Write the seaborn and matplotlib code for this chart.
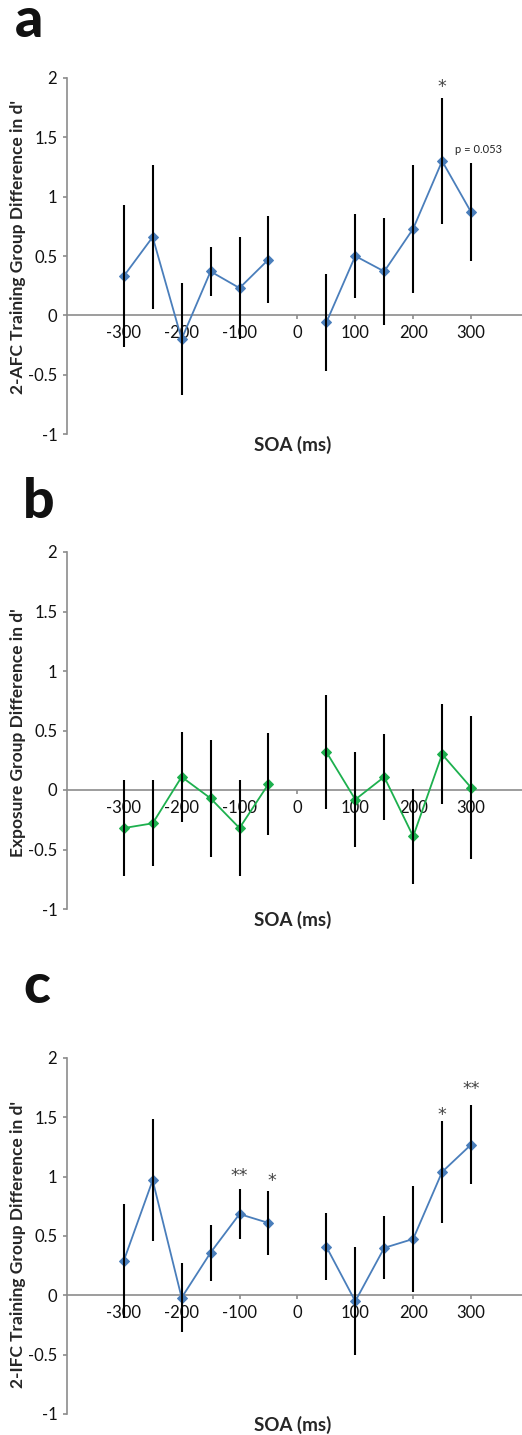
import numpy as np
import pandas as pd
import matplotlib
matplotlib.use("Agg")
import matplotlib.pyplot as plt
import seaborn as sns

# ---- data ----
soa = [-300, -250, -200, -150, -100, -50, 50, 100, 150, 200, 250, 300]
x_ticks = [-300, -200, -100, 0, 100, 200, 300]
y_ticks = [-1, -0.5, 0, 0.5, 1, 1.5, 2]
y_tick_labels = ["-1", "-0.5", "0", "0.5", "1", "1.5", "2"]

a_vals = [0.33, 0.66, -0.20, 0.37, 0.23, 0.47, -0.06, 0.50, 0.37, 0.73, 1.30, 0.87]
a_err = [0.60, 0.61, 0.47, 0.21, 0.43, 0.37, 0.41, 0.35, 0.45, 0.54, 0.53, 0.41]
b_vals = [-0.32, -0.28, 0.11, -0.07, -0.32, 0.05, 0.32, -0.08, 0.11, -0.39, 0.30, 0.02]
b_err = [0.40, 0.36, 0.38, 0.49, 0.40, 0.43, 0.48, 0.40, 0.36, 0.40, 0.42, 0.60]
c_vals = [0.29, 0.97, -0.02, 0.36, 0.685, 0.61, 0.41, -0.05, 0.40, 0.475, 1.04, 1.27]
c_err = [0.48, 0.515, 0.29, 0.235, 0.21, 0.27, 0.28, 0.455, 0.265, 0.445, 0.43, 0.33]

panel_letters = ["a", "b", "c"]
y_labels = ["2-AFC Training Group Difference in d'",
            "Exposure Group Difference in d'",
            "2-IFC Training Group Difference in d'"]
x_label = "SOA (ms)"

# annotations: (x, y of star centre, text)
a_notes = [(250, 1.97, "*")]
a_pnote = (272, 1.40, "p = 0.053")
c_notes = [(-100, 1.05, "**"), (-45, 1.01, "*"), (250, 1.56, "*"), (301, 1.78, "**")]

sns.set_style("white")
plt.rcParams["font.family"] = ["Lato", "DejaVu Sans"]

BLUE = "#4A7EBB"
GREEN = "#1DB04E"
GRAY = "#8C8C8C"

fig = plt.figure(figsize=(5.22, 14.35), dpi=100)

W = 522.0
H = 1435.0
left_px, right_px = 67, 522
panels_px = [(78, 434), (552, 909), (1058, 1414)]
ylab_y = [0.524, 0.493, 0.476]
letter_pos = [(15, 37), (23, 518), (23, 1003)]

series = [(a_vals, a_err, BLUE), (b_vals, b_err, GREEN), (c_vals, c_err, BLUE)]
STAR_SHIFT = 0.085  # data units between star ink centre and baseline


def star(ax, xx, yy, t):
    ax.text(xx, yy - STAR_SHIFT, t, ha="center", va="baseline", fontsize=12.5,
            color="#444444", family=["DejaVu Sans"])


for i, ((top, bot), (vals, errs, col)) in enumerate(zip(panels_px, series)):
    ax = fig.add_axes([left_px / W, 1 - bot / H, (right_px - left_px) / W, (bot - top) / H])
    df = pd.DataFrame({"soa": soa, "d": vals, "err": errs})
    df["side"] = np.where(df["soa"] < 0, "neg", "pos")
    sns.lineplot(data=df, x="soa", y="d", units="side", estimator=None,
                 color=col, lw=1.3, marker="D", markersize=5,
                 markeredgecolor=col, ax=ax, legend=False, zorder=3)
    ax.errorbar(df["soa"], df["d"], yerr=df["err"], fmt="none",
                ecolor="black", elinewidth=1.5, capsize=0, zorder=4)

    ax.set_xlim(-398, 388)
    ax.set_ylim(-1, 2)
    ax.set_yticks(y_ticks)
    ax.set_yticklabels(y_tick_labels)
    ax.set_xticks(x_ticks)
    ax.set_xticklabels([str(t) for t in x_ticks])

    for s in ["top", "right"]:
        ax.spines[s].set_visible(False)
    ax.spines["left"].set_color(GRAY)
    ax.spines["left"].set_linewidth(1.2)
    ax.spines["bottom"].set_position(("data", 0))
    ax.spines["bottom"].set_color(GRAY)
    ax.spines["bottom"].set_linewidth(1.2)
    ax.spines["bottom"].set_zorder(1)

    ax.tick_params(axis="y", direction="out", length=3, width=1.2, color=GRAY,
                   labelsize=12, pad=4, left=True)
    ax.tick_params(axis="x", direction="out", length=3, width=1.2, color=GRAY,
                   labelsize=12, pad=4, bottom=True)
    for lab in ax.get_xticklabels() + ax.get_yticklabels():
        lab.set_color("#111111")

    ax.set_xlabel(x_label, fontsize=13.5, fontweight="bold")
    ax.xaxis.set_label_coords(0.495, -0.006)
    ax.set_ylabel(y_labels[i], fontsize=12.5, fontweight="bold")
    ax.yaxis.set_label_coords(-0.09, ylab_y[i])
    ax.patch.set_alpha(0)

    if i == 0:
        for (xx, yy, t) in a_notes:
            star(ax, xx, yy, t)
        ax.text(a_pnote[0], a_pnote[1], a_pnote[2], ha="left", va="center",
                fontsize=8, color="#222222")
    if i == 2:
        for (xx, yy, t) in c_notes:
            star(ax, xx, yy, t)

    lx, ly = letter_pos[i]
    fig.text(lx / W, 1 - ly / H, panel_letters[i], fontsize=40, fontweight="black",
             ha="left", va="baseline", color="#111111")

fig.savefig("out.png", dpi=100)
